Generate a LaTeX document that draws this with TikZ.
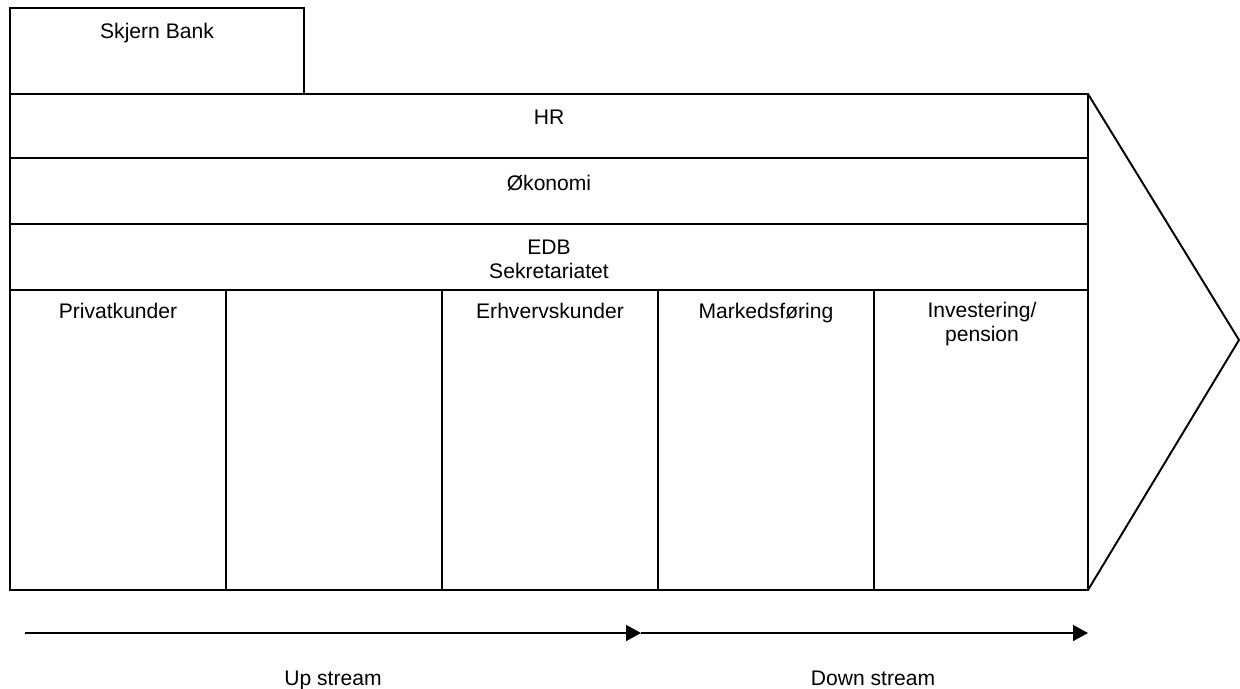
\documentclass[tikz,border=0pt]{standalone}
\usepackage{fontspec}
\setmainfont{Liberation Sans}
\usetikzlibrary{arrows.meta}

\tikzset{
  frame/.style={line width=1.1pt},
  lbl/.style={anchor=base, inner sep=0pt, align=center,
    font=\fontsize{12pt}{13.3pt}\selectfont},
  flow/.style={line width=1.1pt, -{Triangle[length=8.5pt, width=9pt]}}
}

\begin{document}
\begin{tikzpicture}[x=0.02cm, y=-0.02cm]
  \useasboundingbox (0, 0) rectangle (1240, 689);

  % the bank and its value chain
  \draw[frame] (10, 8) rectangle (304, 94);
  \draw[frame] (10, 94) rectangle (1088, 590);
  \foreach \y in {158, 224, 290}
    \draw[frame] (10, \y) -- (1088, \y);
  \foreach \x in {226, 442, 658, 874}
    \draw[frame] (\x, 290) -- (\x, 590);
  \draw[frame, line join=miter] (1088, 94) -- (1239, 340) -- (1088, 590);

  \node[lbl] (bank) at (157, 39) {Skjern Bank};
  \node[lbl] (hr)   at (549, 125) {HR};
  \node[lbl] (oek)  at (549, 191) {Økonomi};
  \node[lbl] (edb)  at (549, 278) {EDB\\Sekretariatet};

  \node[lbl] (priv) at (118, 318) {Privatkunder};
  \node[lbl] (erhv) at (550, 318) {Erhvervskunder};
  \node[lbl] (mark) at (766, 318) {Markedsføring};
  \node[lbl] (inv)  at (982, 341) {Investering/\\pension};

  % streams
  \coordinate (s0) at (25, 633);
  \coordinate (s1) at (641, 633);
  \coordinate (s2) at (1088, 633);
  \draw[flow] (s0) -- (s1);
  \draw[flow] (s1) -- (s2);

  \node[lbl] (up)   at (333, 685) {Up stream};
  \node[lbl] (down) at (873, 685) {Down stream};
\end{tikzpicture}
\end{document}
